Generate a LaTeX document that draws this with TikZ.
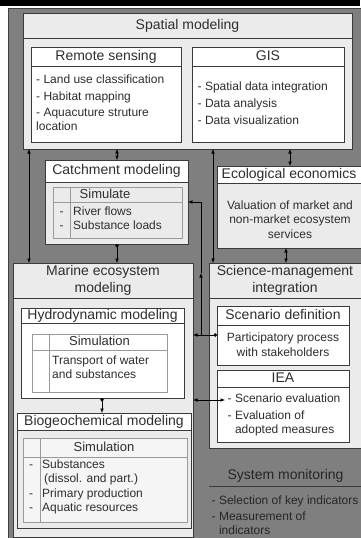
\documentclass[tikz,border=0pt]{standalone}
\usepackage{fontspec}
\setmainfont{Liberation Sans}
\usetikzlibrary{arrows.meta}
\definecolor{panel}{HTML}{7F7F7F}
\definecolor{boxgray}{HTML}{EBEBEB}
\definecolor{edge}{HTML}{3A3A3A}
\definecolor{ink}{HTML}{2E2E2E}
\definecolor{rule}{HTML}{9A9A9A}
\tikzset{
	box/.style={draw=edge, line width=0.9pt, fill=boxgray, anchor=north west, inner sep=0pt, outer sep=0pt},
	wbox/.style={box, fill=white},
	tab/.style={box, draw=rule, line width=0.7pt, fill=#1},
	tab/.default={boxgray},
	band/.style={draw=edge, line width=0.9pt, anchor=north west, inner sep=0pt, outer sep=0pt, text=ink, font=\fontsize{14}{17}\selectfont, text height=10pt, text depth=3pt},
	band2/.style={draw=edge, line width=0.9pt, anchor=north west, inner sep=0pt, outer sep=0pt, text=ink, font=\fontsize{14}{17}\selectfont, align=center},
	head/.style={inner sep=0pt, text=ink, font=\fontsize{13}{15}\selectfont, text height=9.5pt, text depth=2.5pt},
	body/.style={anchor=north west, inner sep=0pt, align=left, text=ink, font=\fontsize{12}{14}\selectfont},
	link/.style={draw=black, line width=0.6pt},
	twoway/.style={{Latex[length=4.5pt,width=3.6pt]}-{Latex[length=4.5pt,width=3.6pt]}},
	oneway/.style={-{Latex[length=4.5pt,width=3.6pt]}},
	dotway/.style={{Circle[length=3.4pt]}-{Latex[length=4.5pt,width=3.6pt]}},
}

\begin{document}
\begin{tikzpicture}[x=1pt, y=-1pt]
	%%%%% FRAME %%%%%
	\useasboundingbox (0,0) rectangle (360,538);
	\fill[black] (0,0) rectangle (360,6);
	\draw[draw=black!75, fill=panel, line width=1pt] (8.5,8.5) rectangle (364,542);
	
	%%%%% SPATIAL MODELING %%%%%
	\node[box, minimum width=329pt, minimum height=136pt] (spatial) at (23,13) {};
	\node[band, minimum width=329pt, minimum height=25pt] (spatialT) at (spatial.north west) {Spatial modeling};
	
	\node[wbox, minimum width=150pt, minimum height=95pt] (remote) at (31,47) {};
	\node[band, minimum width=150pt, minimum height=19pt] (remoteT) at (remote.north west) {Remote sensing};
	\node[body] (remoteL) at (36,74.6) {- Land use classification\\[3pt]- Habitat mapping\\[2pt]- Aquacuture struture\\location};
	
	\node[wbox, minimum width=152pt, minimum height=95pt] (gis) at (192,47) {};
	\node[band, minimum width=152pt, minimum height=19pt] (gisT) at (gis.north west) {GIS};
	\node[body, font=\fontsize{12}{17}\selectfont] (gisL) at (197.5,81.6) {- Spatial data integration\\- Data analysis\\- Data visualization};
	
	%%%%% CATCHMENT MODELING %%%%%
	\node[box, minimum width=143pt, minimum height=84pt] (catch) at (45,160) {};
	\node[band, fill=white, minimum width=143pt, minimum height=22pt] (catchT) at (catch.north west) {Catchment modeling};
	\node[tab, minimum width=129pt, minimum height=51pt] (catchTab) at (53,187) {};
	\draw[rule, line width=0.7pt] (53,202) -- (182,202);
	\draw[rule, line width=0.7pt] (70,187) -- (70,238);
	\node[head] (catchH) at (105,194.5) {Simulate};
	\node[body] (catchD) at (59.5,206.6) {\vphantom{l}-\\-};
	\node[body] (catchL) at (73,206.6) {River flows\\Substance loads};
	
	%%%%% ECOLOGICAL ECONOMICS %%%%%
	\node[box, minimum width=144pt, minimum height=82pt] (eco) at (217,166) {};
	\node[band, fill=white, minimum width=144pt, minimum height=17pt] (ecoT) at (eco.north west) {Ecological economics};
	\node[body, anchor=north, align=center, font=\fontsize{12}{14.5}\selectfont] (ecoL) at (290,200.6) {Valuation of market and\\non-market ecosystem\\services};
	
	%%%%% MARINE ECOSYSTEM MODELING %%%%%
	\node[box, minimum width=180pt, minimum height=274pt] (marine) at (13,263) {};
	\node[band2, minimum width=180pt, minimum height=35pt] (marineT) at (marine.north west) {Marine ecosystem\\modeling};
	
	\node[wbox, minimum width=163pt, minimum height=90pt] (hydro) at (21,308) {};
	\node[band, minimum width=163pt, minimum height=15pt] (hydroT) at (hydro.north west) {Hydrodynamic modeling};
	\node[tab=white, minimum width=135pt, minimum height=58pt] (hydroTab) at (32,334) {};
	\draw[rule, line width=0.7pt] (32,350) -- (167,350);
	\draw[rule, line width=0.7pt] (49,334) -- (49,392);
	\node[head] (hydroH) at (99.5,342) {Simulation};
	\node[body] (hydroL) at (52,355.6) {Transport of water\\and substances};
	
	\node[box, minimum width=174pt, minimum height=115pt] (bio) at (17,413) {};
	\node[band, fill=white, minimum width=174pt, minimum height=17pt] (bioT) at (bio.north west) {Biogeochemical modeling};
	\node[tab=black!4, minimum width=164pt, minimum height=84pt] (bioTab) at (23,438) {};
	\draw[rule, line width=0.7pt] (23,457) -- (187,457);
	\draw[rule, line width=0.7pt] (40,438) -- (40,522);
	\node[head] (bioH) at (104,447.5) {Simulation};
	\node[body, font=\fontsize{12}{14.3}\selectfont] (bioD) at (29,459.6) {\vphantom{l}-\\\mbox{}\\-\\-};
	\node[body, font=\fontsize{12}{14.3}\selectfont] (bioL) at (42,459.6) {Substances\\\hspace{2pt}(dissol. and part.)\\Primary production\\Aquatic resources};
	
	%%%%% SCIENCE-MANAGEMENT INTEGRATION %%%%%
	\node[box, minimum width=152pt, minimum height=185pt] (science) at (209,263) {};
	\node[band2, minimum width=152pt, minimum height=35pt] (scienceT) at (science.north west) {Science-management\\integration};
	
	\node[wbox, minimum width=132pt, minimum height=59pt] (scen) at (217,306) {};
	\node[band, minimum width=132pt, minimum height=19pt] (scenT) at (scen.north west) {Scenario definition};
	\node[body, anchor=north, align=center, font=\fontsize{12}{15}\selectfont] (scenL) at (283,332.6) {Participatory process\\with stakeholders};
	
	\node[wbox, minimum width=132pt, minimum height=72pt] (iea) at (217,370) {};
	\node[band, minimum width=132pt, minimum height=17pt] (ieaT) at (iea.north west) {IEA};
	\node[body] (ieaL) at (227.5,393.6) {- Scenario evaluation\\[3pt]- Evaluation of\\\phantom{- }adopted measures};
	
	%%%%% SYSTEM MONITORING %%%%%
	\node[head, font=\fontsize{14}{17}\selectfont, text=black!85] (monT) at (285.5,476) {System monitoring};
	\draw[edge, line width=0.9pt] (209,486) -- (362,486);
	\node[body, text=black!85] (monL) at (211.5,495.6) {- Selection of key indicators\\[2pt]- Measurement of\\\phantom{- }indicators};
	
	%%%%% CONNECTORS %%%%%
	\coordinate (xa) at (29,0);
	\coordinate (xb) at (117,0);
	\coordinate (xc) at (213,0);
	\coordinate (xd) at (290,0);
	\coordinate (xe) at (286,0);
	\coordinate (xh) at (102,0);
	\coordinate (xv) at (201,0);
	\coordinate (yc) at (0,202);
	\coordinate (ym) at (0,273);
	\coordinate (ys) at (0,335);
	\coordinate (yi) at (0,400);
	\coordinate (ieaPt) at (225,400);
	
	\draw[link, twoway] (spatial.south -| xb) -- (catch.north -| xb);
	\draw[link, twoway] (spatial.south -| xa) -- (marine.north -| xa);
	\draw[link, dotway] (catch.south -| xb) -- (marine.north -| xb);
	\draw[link, twoway] (spatial.south -| xc) -- (science.north -| xc);
	\draw[link, twoway] (spatial.south -| xd) -- (eco.north -| xd);
	\draw[link, twoway] (eco.south -| xe) -- (science.north -| xe);
	\draw[link, dotway] (scen.west |- ys) -- (marine.east |- ys);
	\draw[link, oneway] (xv |- ys) -- (xv |- ym);
	\draw[link, oneway] (xv |- ym) |- (catch.east |- yc);
	\draw[link, twoway] (marine.east |- yi) -- (ieaPt);
	\draw[link, dotway] (hydro.south -| xh) -- (bio.north -| xh);
	
\end{tikzpicture}
\end{document}
